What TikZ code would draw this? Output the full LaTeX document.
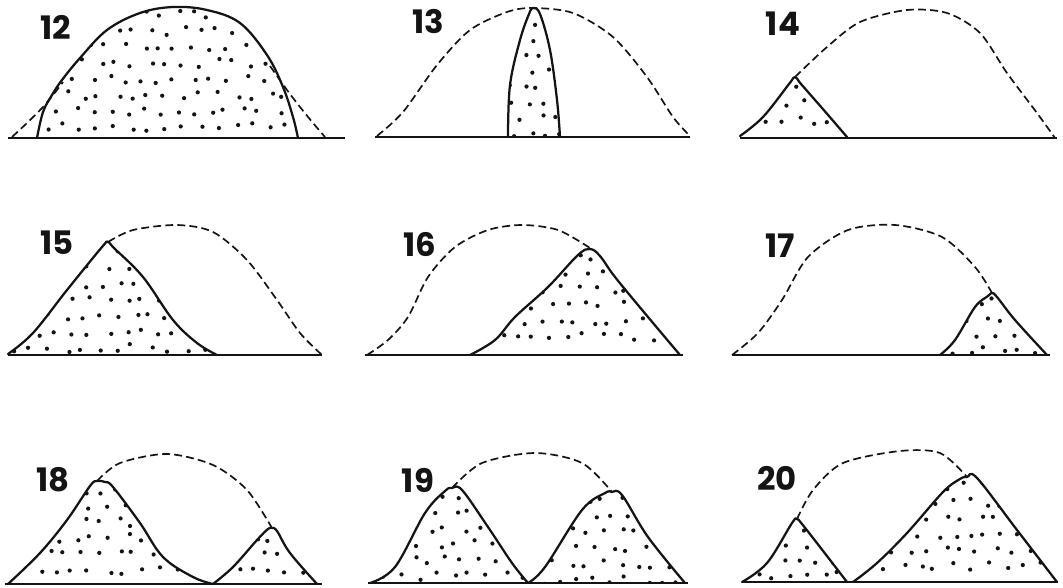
\documentclass[tikz,border=0pt]{standalone}
\usepackage{fontspec}
\newfontfamily\numfont{Poppins}
\usetikzlibrary{calc}
\definecolor{ink}{HTML}{141414}
\tikzset{
  ground/.style={draw=ink, line width=.9pt},
  heap/.style={draw=ink, line width=1.6pt, line join=round, line cap=round},
  reach/.style={draw=ink, line width=1.2pt, dash pattern=on 5.6pt off 3pt},
  grain/.style={fill=ink},
  num/.style={font=\numfont\bfseries\fontsize{23}{23}\selectfont, text=ink, inner sep=0pt},
}
% stipple: jittered grid of dots from (#1,#3) to (#2,#4)
\newcommand\grains[4]{%
  \pgfmathtruncatemacro\gnx{(#2-#1)/17}%
  \pgfmathtruncatemacro\gny{(#4-#3)/16}%
  \foreach \i in {0,...,\gnx}{\foreach \j in {0,...,\gny}{%
    \fill[grain] ({#1+17*\i+8*mod(\j,2)+5*rand},{#3+16*\j+4*rand}) circle[radius=1.5pt];}}}
\newcommand\pile[5]{%
  \path[path picture={\grains{#1}{#2}{#3}{#4}}] plot[smooth, tension=.6] coordinates {#5} -- cycle;
  \draw[heap] plot[smooth, tension=.6] coordinates {#5};}

\begin{document}
\begin{tikzpicture}[x=0.025cm, y=-0.025cm]
  \pgfmathsetseed{12}
  \fill[white] (0,0) rectangle (1063,587);
  \useasboundingbox (0,0) rectangle (1063,587);

  % row 1
  \draw[ground] (8,138) -- (345,138);
  \draw[ground] (375,137) -- (690,137);
  \draw[ground] (740,138) -- (1057,138);
  \draw[reach] plot[smooth] coordinates {(12,137) (27,123) (43,107) (57,90) (63,82)};
  \draw[reach] plot[smooth] coordinates {(270,66) (287,90) (300,107) (313,123) (325,137)};
  \pile{40}{295}{15}{135}{(37,138) (43,112) (52,95) (62,80) (80,58) (107,30) (140,13) (173,7) (207,10) (240,23) (267,55) (283,87) (293,117) (298,138)}
  \draw[reach] plot[smooth] coordinates {(377,136) (403,112) (437,65) (470,30) (507,12) (533,8) (573,13) (613,37) (647,77) (673,117) (690,136)};
  \pile{505}{560}{22}{135}{(508,137) (510,85) (520,40) (529,14) (533,8) (540,14) (550,50) (557,100) (560,137)}
  \draw[reach] plot[smooth] coordinates {(795,77) (827,47) (860,22) (907,10) (947,13) (980,33) (1007,73) (1037,113) (1055,138)};
  \pile{745}{845}{88}{135}{(740,136) (763,117) (789,84) (795,77) (801,84) (822,108) (847,137)}
  \node[num] (n12) at (56,27) {12};
  \node[num] (n13) at (428,22) {13};
  \node[num] (n14) at (783,24) {14};

  % row 2
  \draw[ground] (8,355) -- (322,355);
  \draw[ground] (365,355) -- (683,355);
  \draw[ground] (732,355) -- (1050,355);
  \draw[reach] plot[smooth] coordinates {(108,242) (133,230) (177,225) (213,232) (247,260) (277,300) (300,333) (322,355)};
  \pile{15}{215}{252}{352}{(8,354) (33,333) (67,290) (102,247) (108,242) (114,248) (143,277) (173,320) (197,343) (217,355)}
  \draw[reach] plot[smooth] coordinates {(367,355) (388,340) (408,317) (428,277) (455,247) (488,230) (522,225) (558,230) (590,248)};
  \pile{475}{680}{257}{352}{(470,355) (495,340) (515,317) (548,287) (578,255) (590,249) (600,256) (615,277) (648,317) (680,355)}
  \draw[reach] plot[smooth] coordinates {(732,355) (758,333) (782,300) (808,257) (848,230) (895,225) (942,237) (975,267) (992,293)};
  \pile{945}{1045}{302}{352}{(940,355) (955,340) (975,307) (988,296) (992,293) (997,297) (1015,320) (1047,355)}
  \node[num] (n15) at (57,243) {15};
  \node[num] (n16) at (420,245) {16};
  \node[num] (n17) at (780,246) {17};

  % row 3
  \draw[ground] (5,584) -- (322,584);
  \draw[ground] (368,583) -- (688,583);
  \draw[ground] (742,582) -- (1058,582);
  \draw[reach] plot[smooth] coordinates {(97,481) (120,463) (167,454) (213,465) (247,490) (272,528)};
  \pile{15}{205}{490}{580}{(8,584) (40,553) (67,520) (90,486) (97,481) (105,482) (113,487) (140,523) (163,557) (193,577) (213,584)}
  \pile{220}{312}{537}{580}{(213,584) (233,567) (257,540) (268,529) (272,528) (277,531) (290,553) (317,584)}
  \draw[reach] plot[smooth] coordinates {(452,488) (482,463) (535,453) (582,463) (612,492)};
  \pile{378}{522}{496}{580}{(370,583) (395,567) (425,513) (445,491) (452,488) (462,490) (488,527) (512,563) (528,583)}
  \pile{535}{680}{500}{580}{(528,583) (545,567) (582,510) (605,493) (612,492) (622,495) (648,537) (685,583)}
  \draw[reach] plot[smooth] coordinates {(797,519) (813,490) (843,463) (900,451) (940,453) (967,477)};
  \pile{748}{842}{528}{580}{(742,582) (767,563) (792,523) (797,519) (802,524) (820,547) (847,582)}
  \pile{860}{1052}{486}{580}{(853,582) (877,563) (907,533) (943,492) (960,479) (967,477) (977,478) (1017,530) (1057,582)}
  \node[num] (n18) at (53,480) {18};
  \node[num] (n19) at (418,480) {19};
  \node[num] (n20) at (777,478) {20};
\end{tikzpicture}
\end{document}
